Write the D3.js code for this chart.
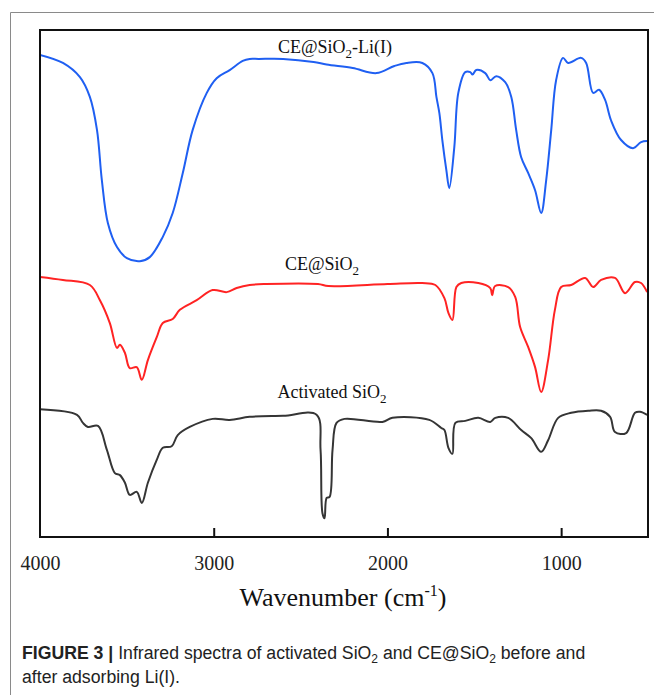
<!DOCTYPE html>
<html>
<head>
<meta charset="utf-8">
<script src="https://cdn.jsdelivr.net/npm/d3@7"></script>
<style>
  html, body { margin: 0; padding: 0; background: #fff; }
  svg { display: block; }
</style>
</head>
<body>
<svg id="chart" width="654" height="695"></svg>
<script>
// FTIR spectra: wavenumber (cm-1) and offset transmittance (a.u.)
const liWavenumber = [4000, 3868, 3770, 3713, 3672, 3644, 3609, 3557, 3500, 3425, 3368, 3293, 3236, 3178, 3121, 3040, 2983, 2908, 2833, 2793, 2741, 2600, 2425, 2350, 2200, 2063, 1960, 1891, 1799, 1741, 1718, 1701, 1684, 1661, 1644, 1615, 1592, 1552, 1523, 1510, 1489, 1437, 1408, 1374, 1322, 1287, 1259, 1230, 1190, 1150, 1115, 1086, 1057, 1029, 989, 960, 885, 856, 816, 782, 747, 713, 655, 586, 540, 505];
const liSignal     = [95.1, 93.5, 90.7, 86.8, 80.3, 70.4, 61.9, 57.2, 55.0, 54.4, 55.2, 59.2, 63.9, 71.8, 80.3, 87.6, 90.5, 92.1, 93.9, 94.3, 94.3, 94.3, 93.7, 93.2, 92.5, 91.5, 92.9, 93.5, 93.5, 91.5, 86.8, 83.6, 78.3, 72.4, 68.8, 76.9, 87.6, 91.7, 91.7, 91.2, 92.1, 91.5, 90.1, 90.9, 89.7, 86.8, 80.3, 74.9, 71.8, 68.4, 63.9, 70.4, 80.3, 90.1, 94.5, 93.5, 94.5, 93.5, 87.6, 88.2, 86.2, 82.2, 78.3, 76.7, 77.9, 78.1];

const ceWavenumber = [4000, 3868, 3713, 3655, 3598, 3557, 3540, 3511, 3483, 3443, 3414, 3379, 3328, 3293, 3236, 3195, 3098, 3006, 2925, 2868, 2793, 2700, 2400, 2340, 2000, 1800, 1724, 1672, 1649, 1626, 1603, 1575, 1477, 1408, 1397, 1380, 1305, 1264, 1236, 1190, 1150, 1115, 1075, 1036, 1000, 942, 862, 816, 770, 690, 632, 575, 540, 505];
const ceSignal     = [51.3, 50.7, 49.7, 46.7, 42.2, 37.3, 37.9, 36.3, 33.3, 33.5, 31.0, 34.9, 39.4, 42.2, 43.0, 44.8, 46.7, 48.7, 48.3, 49.1, 49.7, 49.9, 49.9, 49.5, 49.9, 50.1, 49.7, 47.1, 44.2, 42.8, 49.3, 50.1, 50.1, 49.1, 47.7, 49.5, 49.3, 47.3, 41.4, 37.5, 33.5, 28.6, 34.9, 44.8, 49.3, 49.7, 51.1, 49.3, 50.7, 51.1, 48.1, 50.3, 50.1, 48.3];

const siWavenumber = [4000, 3787, 3753, 3724, 3666, 3615, 3569, 3540, 3511, 3483, 3443, 3414, 3379, 3328, 3293, 3242, 3207, 3138, 3006, 2908, 2793, 2600, 2408, 2385, 2374, 2362, 2350, 2333, 2316, 2293, 2247, 2029, 1971, 1759, 1690, 1672, 1649, 1626, 1609, 1552, 1477, 1408, 1379, 1305, 1230, 1172, 1115, 1075, 1017, 942, 844, 770, 718, 690, 626, 575, 546, 505];
const siSignal     = [25.2, 24.1, 22.5, 21.7, 21.9, 17.2, 12.6, 12.2, 10.7, 8.3, 8.9, 6.7, 10.7, 15.2, 17.6, 17.9, 20.1, 21.7, 23.3, 23.1, 23.7, 23.9, 24.1, 17.2, 4.7, 3.7, 7.7, 7.9, 17.2, 22.5, 23.3, 22.7, 23.5, 23.1, 21.5, 21.1, 17.6, 16.4, 22.5, 22.9, 23.5, 22.7, 23.5, 23.5, 21.1, 19.5, 16.8, 19.1, 23.5, 24.5, 24.9, 24.9, 23.7, 20.7, 20.5, 24.5, 24.7, 24.1];

const seriesNames  = ["CE@SiO2-Li(I)", "CE@SiO2", "Activated SiO2"];
const seriesColors = ["#1f5ff2", "#ff2323", "#353535"];
const xTicks = [4000, 3000, 2000, 1000];

const series = [
  { name: seriesNames[0], color: seriesColors[0], x: liWavenumber, y: liSignal },
  { name: seriesNames[1], color: seriesColors[1], x: ceWavenumber, y: ceSignal },
  { name: seriesNames[2], color: seriesColors[2], x: siWavenumber, y: siSignal }
];

const svg = d3.select("#chart");
const plot = { left: 40, right: 648, top: 30, bottom: 537 };

const x = d3.scaleLinear().domain([4000, 500]).range([plot.left, plot.right]);
const y = d3.scaleLinear().domain([0, 100]).range([plot.bottom, plot.top]);

// page frame (top and left rules)
svg.append("path")
  .attr("d", `M10.5,695 V12.5 H654`)
  .attr("fill", "none")
  .attr("stroke", "#8a8a8a")
  .attr("stroke-width", 1);

// spectra
const line = d3.line()
  .x(d => x(d[0]))
  .y(d => y(d[1]))
  .curve(d3.curveCatmullRom.alpha(0.5));

svg.append("clipPath").attr("id", "clip")
  .append("rect")
  .attr("x", plot.left).attr("y", plot.top)
  .attr("width", plot.right - plot.left).attr("height", plot.bottom - plot.top);

svg.append("g").attr("clip-path", "url(#clip)")
  .selectAll("path")
  .data(series)
  .join("path")
  .attr("d", s => line(s.x.map((w, i) => [w, s.y[i]])))
  .attr("fill", "none")
  .attr("stroke", s => s.color)
  .attr("stroke-width", 2)
  .attr("stroke-linejoin", "round");

// plot box
svg.append("rect")
  .attr("x", plot.left).attr("y", plot.top)
  .attr("width", plot.right - plot.left).attr("height", plot.bottom - plot.top)
  .attr("fill", "none")
  .attr("stroke", "#111")
  .attr("stroke-width", 2);

// bottom axis with inward ticks
const xAxis = d3.axisBottom(x)
  .tickValues(xTicks)
  .tickSize(-9)
  .tickPadding(19)
  .tickFormat(d3.format("d"));

const gx = svg.append("g")
  .attr("transform", `translate(0,${plot.bottom})`)
  .call(xAxis);
gx.select(".domain").remove();
gx.selectAll(".tick line").attr("stroke", "#111").attr("stroke-width", 2)
  .filter(d => d === 4000).remove();
gx.selectAll(".tick text")
  .attr("font-family", "'Liberation Serif', 'Times New Roman', serif")
  .attr("font-size", 20)
  .attr("fill", "#222");

// axis title
const title = svg.append("text")
  .attr("x", 343).attr("y", 606)
  .attr("text-anchor", "middle")
  .attr("font-family", "'Liberation Serif', 'Times New Roman', serif")
  .attr("font-size", 26)
  .attr("fill", "#111");
title.append("tspan").text("Wavenumber (cm");
title.append("tspan").attr("dy", -10).attr("font-size", 16).text("-1");
title.append("tspan").attr("dy", 10).text(")");

// curve labels with subscript 2
function chemLabel(cx, cy, before, after) {
  const t = svg.append("text")
    .attr("x", cx).attr("y", cy)
    .attr("text-anchor", "middle")
    .attr("font-family", "'Liberation Serif', 'Times New Roman', serif")
    .attr("font-size", 18)
    .attr("fill", "#111");
  t.append("tspan").text(before);
  t.append("tspan").attr("dy", 5).attr("font-size", 13).text("2");
  t.append("tspan").attr("dy", -5).text(after || "");
}
chemLabel(335, 53, "CE@SiO", "-Li(I)");
chemLabel(322, 270, "CE@SiO", null);
chemLabel(332, 398, "Activated SiO", null);

// caption, set in a condensed sans
const capFont = "'Liberation Sans', Arial, sans-serif";
const capScale = 0.93;
const cap = svg.append("g").attr("transform", `translate(22,0) scale(${capScale},1)`);
const cap1 = cap.append("text")
  .attr("x", 0).attr("y", 659)
  .attr("font-family", capFont)
  .attr("font-size", 19)
  .attr("fill", "#222");
cap1.append("tspan").attr("font-weight", "bold").text("FIGURE 3 | ");
cap1.append("tspan").text("Infrared spectra of activated SiO");
cap1.append("tspan").attr("dy", 4).attr("font-size", 13).text("2");
cap1.append("tspan").attr("dy", -4).text(" and CE@SiO");
cap1.append("tspan").attr("dy", 4).attr("font-size", 13).text("2");
cap1.append("tspan").attr("dy", -4).text(" before and");

cap.append("text")
  .attr("x", 0).attr("y", 683)
  .attr("font-family", capFont)
  .attr("font-size", 19)
  .attr("fill", "#222")
  .text("after adsorbing Li(I).");
</script>
</body>
</html>
